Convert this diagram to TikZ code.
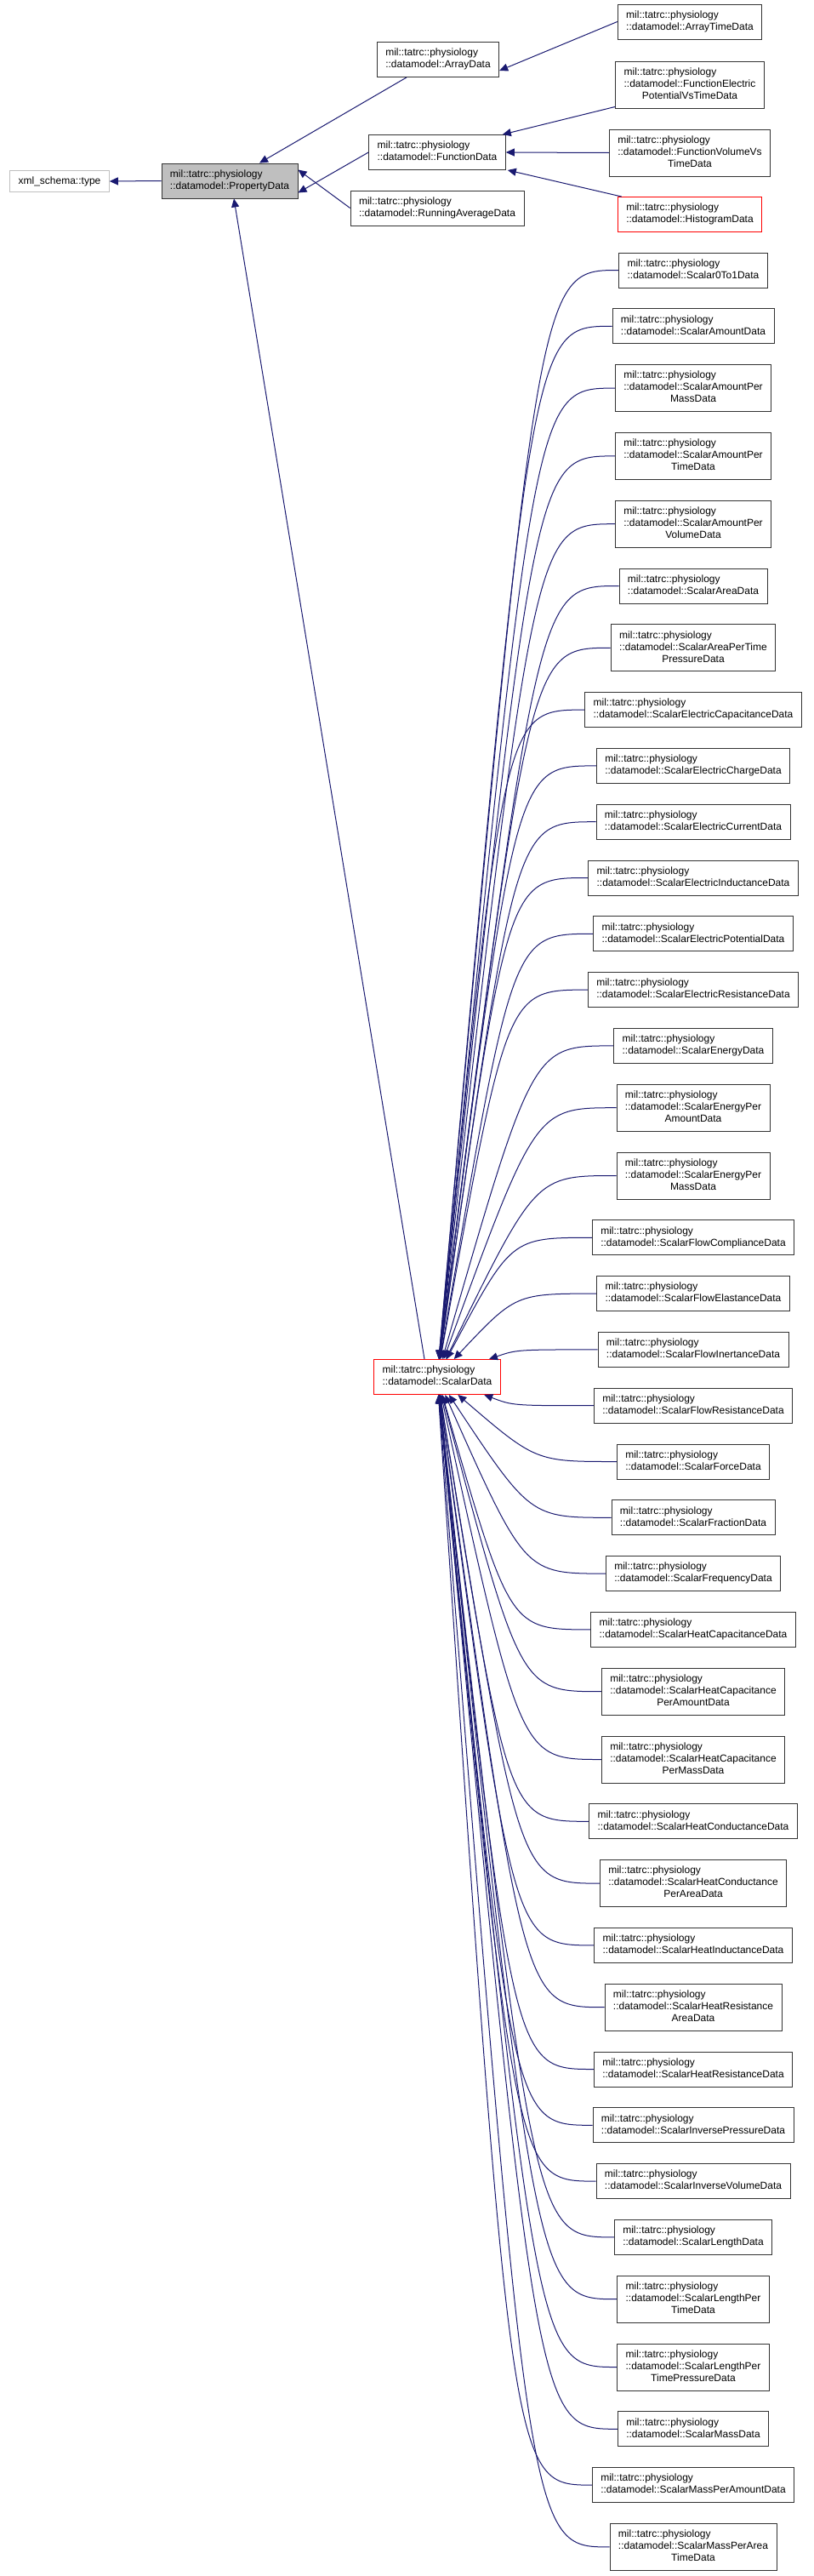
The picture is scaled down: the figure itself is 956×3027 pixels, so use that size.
\documentclass[tikz,border=0pt]{standalone}
\usepackage{fontspec}
\setmainfont{Liberation Sans}
\usetikzlibrary{arrows.meta,calc}
\definecolor{navy}{HTML}{191970}
\definecolor{boxgray}{HTML}{BFBFBF}
\newcommand\twol[1]{\begin{tabular}{@{}l@{}}mil::tatrc::physiology\\::datamodel::#1\end{tabular}}
\newcommand\threel[2]{\begin{tabular}{@{}l@{}}mil::tatrc::physiology\\::datamodel::#1\\\multicolumn{1}{@{}c@{}}{#2}\end{tabular}}
\tikzset{
 cls/.style={draw=black!80, line width=0.9pt, fill=white, inner xsep=10pt, inner ysep=6.5pt, font=\fontsize{12}{14}\selectfont},
 redcls/.style={cls, draw=red},
 edge/.style={draw=navy, line width=1pt, {Triangle[length=10pt,width=9pt]}-},
}
\begin{document}
\begin{tikzpicture}[x=1pt,y=-1pt]
\useasboundingbox (0,0) rectangle (956,3027);
\node[cls, draw=boxgray] (xml) at (70,213) {\fontsize{12}{14}\selectfont xml\_schema::type};
\node[cls, fill=boxgray] (pd) at (270,212.5) {\twol{PropertyData}};
\node[cls] (ad) at (515,70) {\twol{ArrayData}};
\node[cls] (fd) at (514,179) {\twol{FunctionData}};
\node[cls] (ra) at (514,244.5) {\twol{RunningAverageData}};
\node[cls] (atd) at (811,25.5) {\twol{ArrayTimeData}};
\node[cls] (fe) at (811,99.5) {\threel{FunctionElectric}{PotentialVsTimeData}};
\node[cls] (fv) at (811,179.5) {\threel{FunctionVolumeVs}{TimeData}};
\node[redcls] (hd) at (811,252) {\twol{HistogramData}};
\node[redcls] (sd) at (514,1618) {\twol{ScalarData}};

\draw[edge] (xml.east) -- (pd.west);
\draw[edge] ([xshift=35pt]pd.north) -- ([xshift=-37pt]ad.south);
\draw[edge] ([yshift=-14pt]pd.east) -- (fd.west);
\draw[edge] ([yshift=13pt]pd.east) -- (ra.west);
\draw[edge] ([yshift=-13pt]ad.east) -- (atd.west);
\draw[edge] ([xshift=-4pt]fd.north east) -- ([yshift=2pt]fe.south west);
\draw[edge] (fd.east) -- (fv.west);
\draw[edge] ([xshift=2pt]fd.south east) -- ([xshift=5pt]hd.north west);
\draw[edge] ([xshift=5pt]pd.south) -- ([xshift=-15pt]sd.north);

\foreach \yy/\nm [count=\k] in {317.5/Scalar0To1Data, 383.3/ScalarAmountData, 688.5/ScalarAreaData,
 834.1/ScalarElectricCapacitanceData, 899.9/ScalarElectricChargeData, 965.7/ScalarElectricCurrentData,
 1031.5/ScalarElectricInductanceData, 1097.3/ScalarElectricPotentialData, 1163.1/ScalarElectricResistanceData,
 1228.9/ScalarEnergyData, 1454.3/ScalarFlowComplianceData, 1520.1/ScalarFlowElastanceData,
 1585.9/ScalarFlowInertanceData, 1651.7/ScalarFlowResistanceData, 1717.5/ScalarForceData,
 1783.3/ScalarFractionData, 1849.1/ScalarFrequencyData, 1914.9/ScalarHeatCapacitanceData,
 2140.3/ScalarHeatConductanceData, 2285.9/ScalarHeatInductanceData, 2431.5/ScalarHeatResistanceData,
 2497.3/ScalarInversePressureData, 2563.1/ScalarInverseVolumeData, 2628.9/ScalarLengthData,
 2854.3/ScalarMassData, 2920.1/ScalarMassPerAmountData} {
  \node[cls] (a\k) at (815,\yy) {\twol{\nm}};
  \draw[edge] (sd) .. controls ($(a\k.west)+(-95,0)$) .. (a\k.west);
}
\foreach \yy/\na/\nb [count=\k] in {456.1/ScalarAmountPer/MassData, 535.9/ScalarAmountPer/TimeData,
 615.7/ScalarAmountPer/VolumeData, 761.3/ScalarAreaPerTime/PressureData,
 1301.7/ScalarEnergyPer/AmountData, 1381.5/ScalarEnergyPer/MassData,
 1987.7/ScalarHeatCapacitance/PerAmountData, 2067.5/ScalarHeatCapacitance/PerMassData,
 2213.1/ScalarHeatConductance/PerAreaData, 2358.7/ScalarHeatResistance/AreaData,
 2701.7/ScalarLengthPer/TimeData, 2781.5/ScalarLengthPer/TimePressureData,
 2992.9/ScalarMassPerArea/TimeData} {
  \node[cls] (b\k) at (815,\yy) {\threel{\na}{\nb}};
  \draw[edge] (sd) .. controls ($(b\k.west)+(-95,0)$) .. (b\k.west);
}
\end{tikzpicture}
\end{document}
